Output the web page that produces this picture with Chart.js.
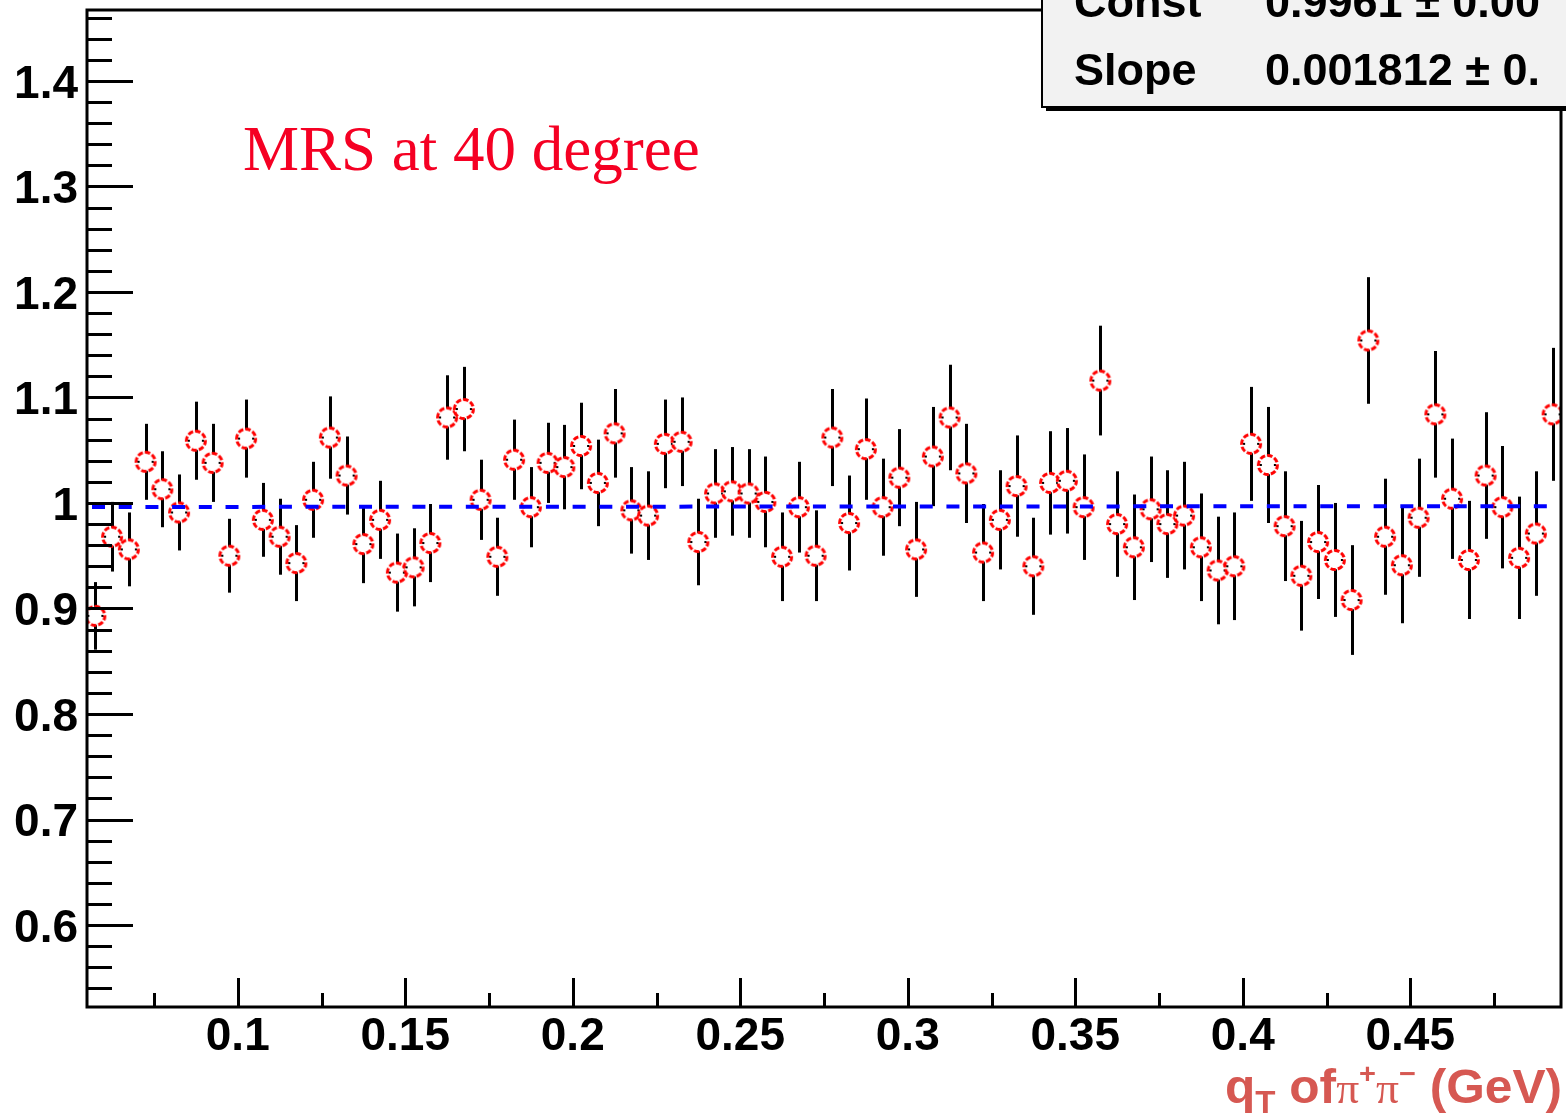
<!DOCTYPE html>
<html>
<head>
<meta charset="utf-8">
<title>MRS at 40 degree</title>
<script src="https://cdn.jsdelivr.net/npm/chart.js@4.4.1/dist/chart.umd.min.js"></script>
<style>
  html, body { margin: 0; padding: 0; background: #fff; }
  canvas { display: block; }
</style>
</head>
<body>
<canvas id="ratioPlot" width="1566" height="1115"></canvas>
<script>
// bin centres of q_T (GeV)
const qT = [
  0.0575, 0.0625, 0.0675, 0.0725, 0.0775, 0.0825, 0.0875, 0.0925, 0.0975, 0.1025,
  0.1075, 0.1125, 0.1175, 0.1225, 0.1275, 0.1325, 0.1375, 0.1425, 0.1475, 0.1525,
  0.1575, 0.1625, 0.1675, 0.1725, 0.1775, 0.1825, 0.1875, 0.1925, 0.1975, 0.2025,
  0.2075, 0.2125, 0.2175, 0.2225, 0.2275, 0.2325, 0.2375, 0.2425, 0.2475, 0.2525,
  0.2575, 0.2625, 0.2675, 0.2725, 0.2775, 0.2825, 0.2875, 0.2925, 0.2975, 0.3025,
  0.3075, 0.3125, 0.3175, 0.3225, 0.3275, 0.3325, 0.3375, 0.3425, 0.3475, 0.3525,
  0.3575, 0.3625, 0.3675, 0.3725, 0.3775, 0.3825, 0.3875, 0.3925, 0.3975, 0.4025,
  0.4075, 0.4125, 0.4175, 0.4225, 0.4275, 0.4325, 0.4375, 0.4425, 0.4475, 0.4525,
  0.4575, 0.4625, 0.4675, 0.4725, 0.4775, 0.4825, 0.4875, 0.4925
];

const ratio = [
  0.893, 0.968, 0.956, 1.039, 1.013, 0.991, 1.059, 1.038, 0.950, 1.061,
  0.984, 0.968, 0.943, 1.003, 1.062, 1.026, 0.961, 0.984, 0.934, 0.939,
  0.962, 1.081, 1.089, 1.003, 0.949, 1.041, 0.996, 1.038, 1.034, 1.054,
  1.019, 1.066, 0.993, 0.988, 1.056, 1.058, 0.963, 1.009, 1.011, 1.009,
  1.001, 0.949, 0.996, 0.950, 1.062, 0.981, 1.051, 0.996, 1.024, 0.956,
  1.044, 1.081, 1.028, 0.953, 0.984, 1.016, 0.940, 1.019, 1.021, 0.996,
  1.116, 0.980, 0.958, 0.994, 0.980, 0.988, 0.958, 0.936, 0.940, 1.056,
  1.036, 0.978, 0.931, 0.963, 0.946, 0.908, 1.154, 0.968, 0.941, 0.986,
  1.084, 1.004, 0.946, 1.026, 0.996, 0.948, 0.971, 1.084
];

const ratioErr = [
  0.032, 0.033, 0.035, 0.036, 0.036, 0.036, 0.037, 0.037, 0.035, 0.037,
  0.035, 0.036, 0.036, 0.036, 0.039, 0.037, 0.037, 0.037, 0.037, 0.037,
  0.037, 0.040, 0.040, 0.038, 0.037, 0.038, 0.038, 0.038, 0.040, 0.041,
  0.041, 0.042, 0.041, 0.042, 0.042, 0.042, 0.041, 0.042, 0.042, 0.042,
  0.043, 0.042, 0.043, 0.043, 0.046, 0.045, 0.048, 0.046, 0.046, 0.045,
  0.047, 0.050, 0.047, 0.046, 0.047, 0.048, 0.046, 0.049, 0.050, 0.050,
  0.052, 0.050, 0.050, 0.050, 0.051, 0.051, 0.051, 0.051, 0.051, 0.054,
  0.055, 0.052, 0.052, 0.054, 0.054, 0.052, 0.060, 0.055, 0.055, 0.056,
  0.060, 0.057, 0.056, 0.060, 0.058, 0.058, 0.059, 0.063
];

// fit result shown in the stats box, drawn over the fitted range
const fitConst = 0.9961;
const fitSlope = 0.001812;
const fitRange = [0.0565, 0.4925];

const xTickValues = [0.1, 0.15, 0.2, 0.25, 0.3, 0.35, 0.4, 0.45];
const yTickValues = [0.6, 0.7, 0.8, 0.9, 1.0, 1.1, 1.2, 1.3, 1.4];

const statsNames = ['Const', 'Slope'];
const statsValues = ['0.9961 \u00b1 0.00', '0.001812 \u00b1 0.'];

const sans = '"Liberation Sans", Arial, Helvetica, sans-serif';
const serif = '"Liberation Serif", "Times New Roman", serif';

// open red circle marker, ROOT style
function makeMarker() {
  const c = document.createElement('canvas');
  c.width = 26;
  c.height = 26;
  const g = c.getContext('2d');
  g.fillStyle = '#ffffff';
  g.beginPath();
  g.arc(13, 13, 9.5, 0, Math.PI * 2);
  g.fill();
  g.strokeStyle = '#ff0000';
  g.lineWidth = 3;
  g.setLineDash([5.4, 2.05]);
  g.lineDashOffset = 1;
  g.stroke();
  g.fillStyle = '#000000';
  g.fillRect(5, 12, 2, 2);
  g.fillRect(19, 12, 2, 2);
  return c;
}

const fmt = v => String(Number(v.toFixed(3)));

// vertical error bars, drawn under the markers
const errorBars = {
  id: 'errorBars',
  beforeDatasetsDraw(chart) {
    const { ctx, scales: { x, y } } = chart;
    ctx.save();
    ctx.strokeStyle = '#000';
    ctx.lineWidth = 3;
    qT.forEach((q, i) => {
      const px = Math.round(x.getPixelForValue(q)) + 0.5;
      ctx.beginPath();
      ctx.moveTo(px, y.getPixelForValue(ratio[i] + ratioErr[i]));
      ctx.lineTo(px, y.getPixelForValue(ratio[i] - ratioErr[i]));
      ctx.stroke();
    });
    ctx.restore();
  }
};

// frame, inward ticks, text label, stats box, axis title
const rootDecor = {
  id: 'rootDecor',
  afterDraw(chart) {
    const { ctx, chartArea: a, scales: { x, y } } = chart;
    ctx.save();

    // frame
    ctx.strokeStyle = '#000';
    ctx.lineWidth = 3;
    ctx.strokeRect(a.left, a.top, a.right - a.left, a.bottom - a.top);

    // y ticks: major every 0.1, minor every 0.02
    ctx.beginPath();
    for (let k = 27; k <= 73; k++) {
      const py = Math.round(y.getPixelForValue(k / 50)) + 0.5;
      if (py < a.top || py > a.bottom) continue;
      const len = k % 5 === 0 ? 46 : 25;
      ctx.moveTo(a.left, py);
      ctx.lineTo(a.left + len, py);
    }
    // x ticks: major every 0.05, minor every 0.025
    for (let k = 3; k <= 19; k++) {
      const px = Math.round(x.getPixelForValue(k * 0.025)) + 0.5;
      if (px < a.left || px > a.right) continue;
      const len = k % 2 === 0 ? 29 : 14;
      ctx.moveTo(px, a.bottom);
      ctx.lineTo(px, a.bottom - len);
    }
    ctx.stroke();

    // text label
    ctx.fillStyle = 'rgb(245, 0, 35)';
    ctx.font = '63px ' + serif;
    ctx.textBaseline = 'alphabetic';
    ctx.textAlign = 'left';
    ctx.fillText('MRS at 40 degree', 243, 170);

    // stats box with shadow
    ctx.fillStyle = '#000';
    ctx.fillRect(1046, -10, 600, 121);
    ctx.fillStyle = '#f2f2f2';
    ctx.fillRect(1042, -10, 600, 117);
    ctx.lineWidth = 2;
    ctx.strokeRect(1042, -10, 600, 117);
    ctx.fillStyle = '#000';
    ctx.font = 'bold 45px ' + sans;
    statsNames.forEach((n, i) => {
      ctx.fillText(n, 1074, 17 + i * 68);
      ctx.fillText(statsValues[i], 1265, 17 + i * 68);
    });

    // x axis title, right aligned at the frame edge
    const big = 'bold 48px ' + sans;
    const sub = 'bold 32px ' + sans;
    const greek = '44px ' + serif;
    const supF = 'bold 28px ' + sans;
    const parts = [
      { t: 'q', f: big, dy: 0 },
      { t: 'T', f: sub, dy: 10 },
      { t: ' of', f: big, dy: 0 },
      { t: '\u03c0', f: greek, dy: 0 },
      { t: '+', f: supF, dy: -20 },
      { t: '\u03c0', f: greek, dy: 0 },
      { t: '\u2212', f: supF, dy: -20 },
      { t: ' (GeV)', f: big, dy: 0 }
    ];
    let total = 0;
    parts.forEach(p => { ctx.font = p.f; p.w = ctx.measureText(p.t).width; total += p.w; });
    const startX = 1225;
    const sx = (1562 - startX) / total;
    ctx.translate(startX, 1103);
    ctx.scale(sx, 1);
    ctx.fillStyle = 'rgb(214, 88, 82)';
    let cx = 0;
    parts.forEach(p => {
      ctx.font = p.f;
      ctx.fillText(p.t, cx, p.dy);
      cx += p.w;
    });
    ctx.restore();
  }
};

const ctx = document.getElementById('ratioPlot').getContext('2d');
const chart = new Chart(ctx, {
  type: 'scatter',
  data: {
    datasets: [
      {
        type: 'line',
        label: 'fit',
        data: fitRange.map(v => ({ x: v, y: fitConst + fitSlope * v })),
        borderColor: '#0000ff',
        borderWidth: 4,
        borderDash: [13, 13.7],
        pointRadius: 0,
        fill: false
      },
      {
        label: 'ratio',
        data: qT.map((q, i) => ({ x: q, y: ratio[i] })),
        pointStyle: makeMarker(),
        pointRadius: 11,
        pointHoverRadius: 11
      }
    ]
  },
  options: {
    responsive: false,
    animation: false,
    devicePixelRatio: 1,
    layout: { autoPadding: false, padding: { top: 10, right: 5, left: 0, bottom: 0 } },
    plugins: {
      legend: { display: false },
      tooltip: { enabled: false }
    },
    scales: {
      x: {
        type: 'linear',
        min: 0.055,
        max: 0.495,
        afterBuildTicks: s => { s.ticks = xTickValues.map(v => ({ value: v })); },
        afterFit: s => {
          s.height = 108;
          s.paddingLeft = 0;
          s.paddingRight = 0;
        },
        grid: { display: false, drawTicks: false },
        border: { display: false },
        ticks: {
          padding: 3,
          color: '#000',
          maxRotation: 0,
          autoSkip: false,
          font: { family: sans, size: 46, weight: 'bold' },
          callback: v => fmt(v)
        }
      },
      y: {
        type: 'linear',
        min: 0.5223,
        max: 1.4672,
        afterBuildTicks: s => { s.ticks = yTickValues.map(v => ({ value: v })); },
        afterFit: s => {
          s.width = 87;
          s.paddingTop = 0;
          s.paddingBottom = 0;
        },
        grid: { display: false, drawTicks: false },
        border: { display: false },
        ticks: {
          padding: 9,
          labelOffset: 4,
          color: '#000',
          autoSkip: false,
          font: { family: sans, size: 46, weight: 'bold' },
          callback: v => fmt(v)
        }
      }
    }
  },
  plugins: [errorBars, rootDecor]
});
</script>
</body>
</html>
